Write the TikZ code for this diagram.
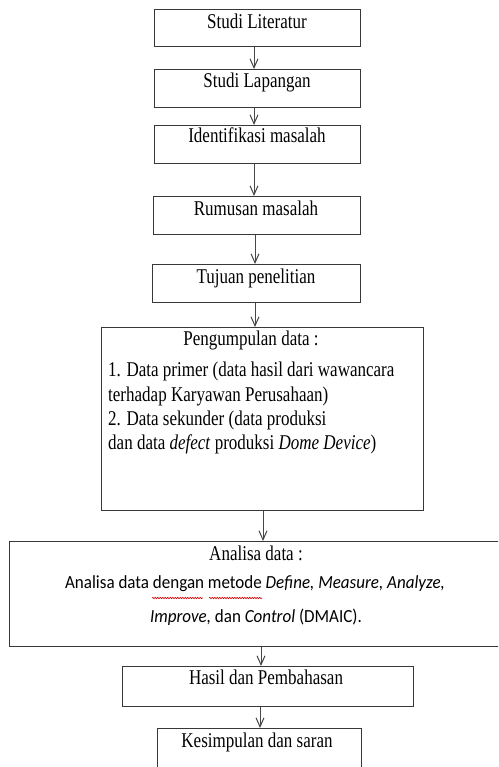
\documentclass[tikz,border=0pt]{standalone}
\usepackage{fontspec}
\setmainfont[FakeStretch=0.81]{Liberation Serif}
\newfontfamily\calfont[FakeStretch=0.92]{Carlito}
\usetikzlibrary{arrows.meta,decorations.pathmorphing}
\begin{document}
\begin{tikzpicture}[x=1pt,y=-1pt,
 box/.style={draw=black!78, line width=1.2pt, rectangle, inner sep=0pt, anchor=north west},
 lbl/.style={font=\fontsize{21}{25}\selectfont, inner sep=0pt, anchor=base},
 lln/.style={font=\fontsize{21}{25}\selectfont, inner sep=0pt, anchor=base west},
 body/.style={font=\calfont\fontsize{18.5}{22}\selectfont, inner sep=0pt, anchor=base},
 arr/.style={draw=black!72, line width=1pt, -{Straight Barb[length=9pt,width=8pt,line width=1pt]}},
 wavy/.style={draw=red!85!black, line width=0.6pt, decorate, decoration={snake,amplitude=0.7pt,segment length=2.5pt}}]
\useasboundingbox (0,0) rectangle (498,767);
\clip (0,0) rectangle (498,767);
% boxes
\node[box, minimum width=206pt, minimum height=37pt] (b1) at (154,9) {};
\node[box, minimum width=206pt, minimum height=38pt] (b2) at (154,69) {};
\node[box, minimum width=206pt, minimum height=38pt] (b3) at (154,125) {};
\node[box, minimum width=207pt, minimum height=38pt] (b4) at (153,196) {};
\node[box, minimum width=208pt, minimum height=38pt] (b5) at (152,264) {};
\node[box, minimum width=322pt, minimum height=183pt] (b6) at (101,327) {};
\node[box, minimum width=500pt, minimum height=105pt] (b7) at (9,541) {};
\node[box, minimum width=291pt, minimum height=40pt] (b8) at (122,666) {};
\node[box, minimum width=204pt, minimum height=50pt] (b9) at (157,728) {};
% texts
\node[lbl] (t1) at (257,29) {Studi Literatur};
\node[lbl] (t2) at (257,88) {Studi Lapangan};
\node[lbl] (t3) at (257,143) {Identifikasi masalah};
\node[lbl] (t4) at (256,215) {Rumusan masalah};
\node[lbl] (t5) at (256,283) {Tujuan penelitian};
\node[lbl] (t6) at (251,345) {Pengumpulan data :};
\node[lln] (t6a) at (108,376) {1. Data primer (data hasil dari wawancara};
\node[lln] (t6b) at (108,401) {terhadap Karyawan Perusahaan)};
\node[lln] (t6c) at (108,425) {2. Data sekunder (data produksi};
\node[lln] (t6d) at (108,449) {dan data \textit{defect} produksi \textit{Dome Device})};
\node[lbl] (t7) at (256,560) {Analisa data :};
\node[body] (t7a) at (255,588) {Analisa data dengan metode \textit{Define, Measure, Analyze,}};
\node[body] (t7b) at (256,622) {\textit{Improve,} dan \textit{Control} (DMAIC).};
\node[lbl] (t8) at (266,684) {Hasil dan Pembahasan};
\node[lbl] (t9) at (257,747) {Kesimpulan dan saran};
% spell-check marks
\draw[wavy] (152,598) -- (203,598);
\draw[wavy] (209,598) -- (262,598);
% connectors
\draw[arr] (b1.south -| 254,0) -- (b2.north -| 254,0);
\draw[arr] (b2.south -| 254,0) -- (b3.north -| 254,0);
\draw[arr] (b3.south -| 254,0) -- (b4.north -| 254,0);
\draw[arr] (b4.south -| 255,0) -- (b5.north -| 255,0);
\draw[arr] (b5.south -| 255,0) -- (b6.north -| 255,0);
\draw[arr] (b6.south -| 263,0) -- (b7.north -| 263,0);
\draw[arr] (b7.south -| 261,0) -- (b8.north -| 261,0);
\draw[arr] (b8.south -| 260,0) -- (b9.north -| 260,0);
\end{tikzpicture}
\end{document}
